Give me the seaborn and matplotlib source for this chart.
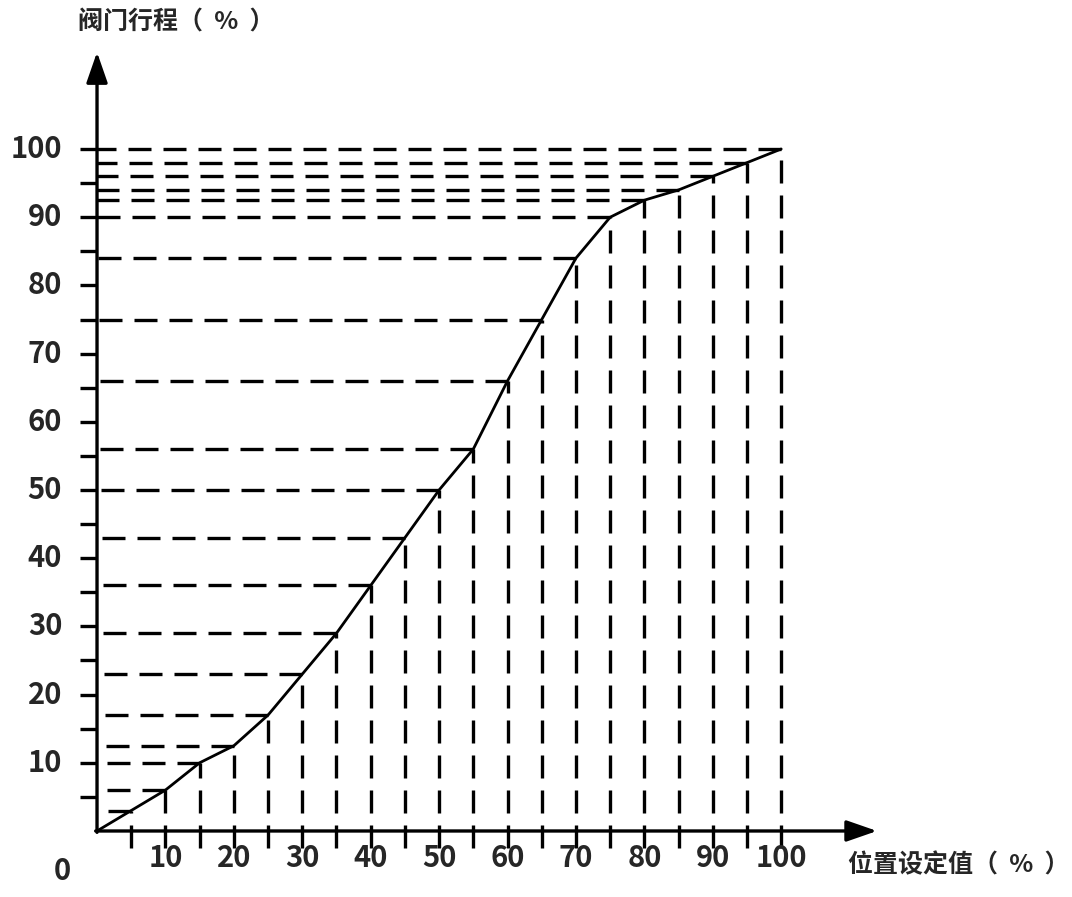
import matplotlib
matplotlib.use('Agg')
import matplotlib.pyplot as plt
import seaborn as sns
import pandas as pd

# position setpoint (%) vs valve travel (%)
setpoint = [0, 5, 10, 15, 20, 25, 30, 35, 40, 45, 50, 55, 60, 65, 70, 75, 80, 85, 90, 95, 100]
travel = [0, 3, 6, 10, 12.5, 17, 23, 29, 36, 43, 50, 56, 66, 75, 84, 90, 92.5, 94, 96, 98, 100]
tick_labels = [10, 20, 30, 40, 50, 60, 70, 80, 90, 100]
minor_ticks = list(range(5, 101, 5))
y_title = '阀门行程（  %  ）'
x_title = '位置设定值（  %  ）'

df = pd.DataFrame({'setpoint': setpoint, 'travel': travel})

sns.set_style('white')
plt.rcParams['font.family'] = ['Noto Sans CJK SC', 'DejaVu Sans']

fig = plt.figure(figsize=(10.72, 8.97), dpi=100)
ax = fig.add_axes([0, 0, 1, 1])
ax.axis('off')
ax.set_xlim(-14.18, 142.5)
ax.set_ylim(-9.68, 121.85)

dash = (0, (6.9, 3.6))
# dashed guide lines
for x, y in zip(setpoint[1:], travel[1:]):
    ax.plot([x, 0], [y, y], color='black', lw=2.4, linestyle=dash)
    ax.plot([x, x], [-2.5, y], color='black', lw=2.4, linestyle=dash)

# the curve
sns.lineplot(data=df, x='setpoint', y='travel', ax=ax, color='black', lw=2, sort=False)

# y ticks (every 5)
for t in minor_ticks:
    ax.plot([-2.5, 0], [t, t], color='black', lw=2.4, solid_capstyle='butt')

# axes with arrows
arrow = dict(arrowstyle='-|>,head_length=18.7,head_width=6.5', lw=2.4, color='black',
             shrinkA=0, shrinkB=0, mutation_scale=1)
ax.annotate('', xy=(0, 114.2), xytext=(0, -0.2), arrowprops=arrow)
ax.annotate('', xy=(114, 0), xytext=(-0.2, 0), arrowprops=arrow)

# labels
for t in tick_labels:
    ax.text(-5.1, t, str(t), ha='right', va='center', fontsize=21, fontweight='bold')
    ax.text(t, -4.0, str(t), ha='center', va='center', fontsize=21, fontweight='bold')
ax.text(-5.1, -5.8, '0', ha='center', va='center', fontsize=21, fontweight='bold')

ax.text(-2.8, 118.6, y_title, ha='left', va='center', fontsize=18, fontweight='bold')
ax.text(109.8, -5.0, x_title, ha='left', va='center', fontsize=18, fontweight='bold')

plt.savefig('out.png', dpi=100)
